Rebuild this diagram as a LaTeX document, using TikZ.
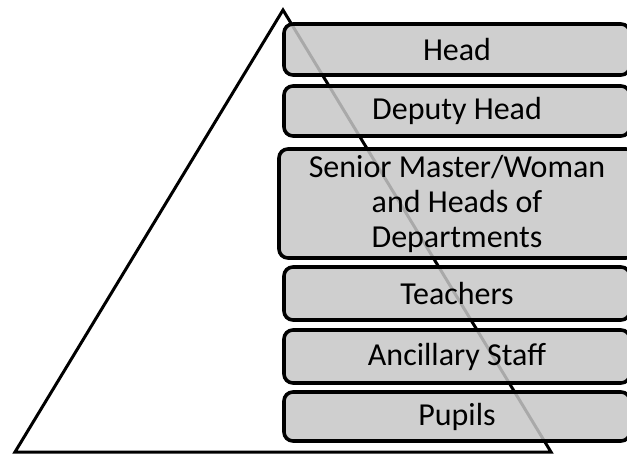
\documentclass[tikz,border=0pt]{standalone}
\usepackage{fontspec}
\setmainfont{Carlito}
\begin{document}
\begin{tikzpicture}[
      x=1pt, y=-1pt,
      font=\fontsize{32}{35}\selectfont,
      level/.style={draw=black, line width=3.6pt, rounded corners=9pt,
        fill=black!22, fill opacity=0.85, text opacity=1,
        minimum width=346pt, align=center, inner sep=0pt}
    ]
      \useasboundingbox (0,0) rectangle (627,455);
      \clip (0,0) rectangle (627,455);

      % pyramid behind the levels
      \coordinate (apex) at (283,10);
      \coordinate (baseL) at (15,452);
      \coordinate (baseR) at (551,452);
      \draw[line width=3pt, line join=miter] (apex) -- (baseL) -- (baseR) -- cycle;

      \node (head) at (457,49.5) [level, minimum height=51pt] {Head};
      \node (deputy) at (457,111) [level, minimum height=50pt] {Deputy Head};
      \node (senior) at (457,203.5) [level, minimum width=356pt, minimum height=109pt] {
          Senior Master/Woman\\and Heads of\\Departments
      };
      \node (teachers) at (457,293.5) [level, minimum height=53pt] {Teachers};
      \node (ancillary) at (457,356.5) [level, minimum height=53pt] {Ancillary Staff};
      \node (pupils) at (457,416.5) [level, minimum height=49pt] {Pupils};
    \end{tikzpicture}
\end{document}
